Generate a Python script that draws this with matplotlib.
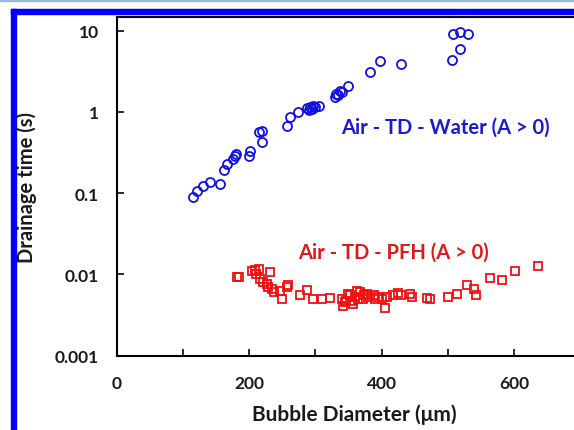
import matplotlib.pyplot as plt
import numpy as np
from matplotlib.patches import Rectangle
from matplotlib.ticker import FixedLocator, FuncFormatter

# Air - TD - Water (A > 0): bubble diameter (um), drainage time (s)
water_d = [116, 122, 130, 141, 156, 162, 166, 176, 179, 180, 200, 201,
           215, 220, 219, 257, 262, 274, 287, 292, 297, 305, 290, 295,
           300, 330, 332, 337, 350, 335, 340, 382, 397, 430, 506, 519,
           508, 519, 531]
water_t = [0.089, 0.107, 0.123, 0.136, 0.129, 0.195, 0.228, 0.263, 0.289,
           0.303, 0.289, 0.333, 0.561, 0.586, 0.421, 0.665, 0.858, 0.99,
           1.11, 1.14, 1.19, 1.19, 1.07, 1.08, 1.15, 1.51, 1.66, 1.82, 2.10,
           1.60, 1.75, 3.07, 4.20, 3.89, 4.40, 5.95, 9.1, 9.7, 9.1]

# Air - TD - PFH (A > 0)
pfh_d = [181, 184, 204, 209, 215, 211, 216, 221, 227, 232, 229, 234, 237,
         247, 249, 257, 259, 277, 287, 297, 310, 322, 340, 342, 347, 352,
         357, 363, 365, 373, 378, 388, 390, 395, 405, 408, 418, 425, 430,
         443, 446, 468, 473, 501, 514, 529, 539, 543, 564, 582, 601, 637,
         345, 350, 355, 360, 368, 372, 380, 400]
pfh_t = [0.0094, 0.0092, 0.0111, 0.0114, 0.0116, 0.0101, 0.0088, 0.0080,
         0.0076, 0.0106, 0.0069, 0.0066, 0.0060, 0.0063, 0.0050, 0.0069,
         0.0073, 0.0055, 0.0065, 0.0050, 0.0049, 0.0051, 0.0050, 0.0041,
         0.0047, 0.0055, 0.0043, 0.0063, 0.0050, 0.0055, 0.0057, 0.0055,
         0.0050, 0.0052, 0.0039, 0.0053, 0.0055, 0.0059, 0.0055, 0.0057,
         0.0052, 0.0051, 0.0050, 0.0052, 0.0057, 0.0073, 0.0066, 0.0056,
         0.0090, 0.0085, 0.0109, 0.0128, 0.0045, 0.0058, 0.0047, 0.0052,
         0.0060, 0.0049, 0.0053, 0.0050]

plt.rcParams['font.family'] = ['Lato', 'DejaVu Sans']
plt.rcParams['font.weight'] = 'bold'

W, H = 574, 431
fig = plt.figure(figsize=(W / 100, H / 100), dpi=100)

# blue frame of the screenshot
fig.patches.append(Rectangle((0, 1 - 1.5 / H), 1, 1.5 / H, transform=fig.transFigure,
                             color='#9ab8dc', zorder=0))
fig.patches.append(Rectangle((11 / W, 1 - 15 / H), 1, 5.5 / H, transform=fig.transFigure,
                             color='#0000ff', zorder=0))
fig.patches.append(Rectangle((11 / W, 0), 5 / W, 1 - 9.5 / H, transform=fig.transFigure,
                             color='#0000ff', zorder=0))

ax = fig.add_axes([116.7 / W, 1 - 356.5 / H, 463.4 / W, 339 / H])
ax.plot(water_d, water_t, 'o', mfc='none', mec='#1010e0', ms=6.5, mew=1.3)
ax.plot(pfh_d, pfh_t, 's', mfc='none', mec='#f01010', ms=5.8, mew=1.3)

ax.set_yscale('log')
ax.set_xlim(0, 700)
ax.set_ylim(0.001, 15)
ax.yaxis.set_major_locator(FixedLocator([0.001, 0.01, 0.1, 1, 10]))
ax.yaxis.set_major_formatter(FuncFormatter(lambda v, p: '{:g}'.format(v)))
ax.yaxis.set_minor_locator(FixedLocator([]))
ax.xaxis.set_major_locator(FixedLocator(np.arange(0, 701, 100)))
ax.xaxis.set_major_formatter(FuncFormatter(lambda v, p: '%d' % v if v % 200 == 0 else ''))

for s in ax.spines.values():
    s.set_linewidth(1.5)
ax.tick_params(direction='in', length=5, width=1.3, labelsize=12.5, colors='#1a1a1a')
ax.tick_params(axis='y', pad=13)
ax.tick_params(axis='x', pad=14)

ax.text(496, 0.65, 'Air - TD - Water (A > 0)', color='#1a1ad0', fontsize=14.5,
        fontweight='bold', ha='center', va='center')
ax.text(418, 0.0188, 'Air - TD - PFH (A > 0)', color='#e01818', fontsize=14.5,
        fontweight='bold', ha='center', va='center')

fig.text(354 / W, 1 - 415 / H, 'Bubble Diameter (μm)', fontsize=15, fontweight='bold',
         ha='center', va='center', color='#1a1a1a')
fig.text(27 / W, 1 - 188 / H, 'Drainage time (s)', fontsize=14.5, fontweight='bold',
         rotation=90, ha='center', va='center', color='#1a1a1a')

plt.savefig('out.png', dpi=100)
